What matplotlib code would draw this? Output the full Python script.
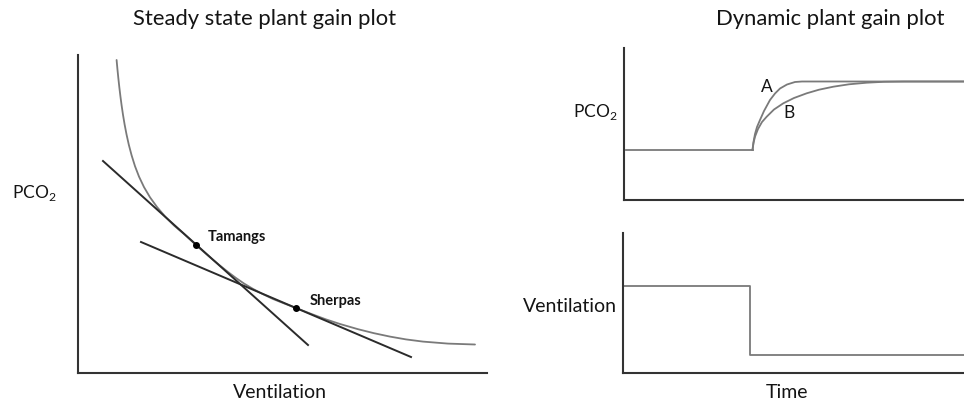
import matplotlib
matplotlib.use("Agg")
import matplotlib.pyplot as plt

plt.rcParams['font.family'] = ['Lato', 'DejaVu Sans']
plt.rcParams['mathtext.fontset'] = 'custom'
plt.rcParams['mathtext.rm'] = 'Lato'

# ---- Steady state plant gain plot (arbitrary units) ----
curve_x = [38.6, 39.4, 40.3, 41.3, 42.4, 43.6, 45.0, 46.6, 48.5, 50.8, 53.6, 57, 61, 66, 72, 79, 87,
           96, 106, 118, 126, 134, 142, 150, 158, 166, 175, 185, 195, 206, 218, 234, 248, 262, 280,
           296, 312, 328, 345, 370, 397]
curve_y = [313, 304.2, 295.2, 286, 276.8, 267.7, 258.2, 248.6, 238.7, 228.3, 217.7, 206.8, 196.4,
           185.9, 175.7, 166, 156.6, 147.5, 139, 128, 120.9, 114, 107.4, 101, 95, 89.5, 84.1, 78.8,
           74, 69.6, 65, 58.8, 53.6, 49, 43.8, 39.8, 36.4, 33.6, 31.4, 29.4, 28.5]
tangent_tamangs_x = [25, 230]
tangent_tamangs_y = [212, 28]
tangent_sherpas_x = [63, 333]
tangent_sherpas_y = [131, 16]
groups = ["Tamangs", "Sherpas"]
group_x = [118, 218]
group_y = [128, 65]

# ---- Dynamic plant gain plot (arbitrary units) ----
pco2_base_x = [2, 128.5]
pco2_base_y = [50, 50]
curveA_x = [128.5, 129.5, 131, 133, 136, 140, 146, 151, 156, 163, 171, 178, 340]
curveA_y = [50, 58, 66, 73, 80, 89, 100, 106.5, 111.5, 115.5, 118, 118.5, 118.5]
curveB_x = [128.5, 129.5, 131, 134, 138, 142.7, 150, 159.3, 170, 182.7, 195, 209.3, 225, 242.7,
            260, 280, 340]
curveB_y = [50, 57, 63.3, 71, 78, 83.3, 90.5, 96.7, 102, 106.7, 110.3, 113.3, 115.7, 117.3,
            118.2, 118.5, 118.5]
vent_x = [0, 127, 127, 341]
vent_y = [87, 87, 18, 18]

W, H = 964, 405
fig = plt.figure(figsize=(W / 100, H / 100), dpi=100)

def frac(x0, y0, x1, y1):
    return [x0 / W, 1 - y1 / H, (x1 - x0) / W, (y1 - y0) / H]

axis_color = '#333333'
curve_color = '#7a7a7a'
line_color = '#2b2b2b'
text_color = '#141414'

def style(ax, xmax, ymax):
    ax.set_xlim(0, xmax)
    ax.set_ylim(0, ymax)
    for s in ['top', 'right']:
        ax.spines[s].set_visible(False)
    for s in ['left', 'bottom']:
        ax.spines[s].set_color(axis_color)
        ax.spines[s].set_linewidth(1.5)
    ax.set_xticks([])
    ax.set_yticks([])
    ax.patch.set_alpha(0)

# Left panel
ax1 = fig.add_axes(frac(78, 55, 487, 373))
style(ax1, 409, 318)
ax1.plot(curve_x, curve_y, color=curve_color, lw=1.3, solid_capstyle='round', solid_joinstyle='round')
ax1.plot(tangent_tamangs_x, tangent_tamangs_y, color=line_color, lw=1.4)
ax1.plot(tangent_sherpas_x, tangent_sherpas_y, color=line_color, lw=1.4)
ax1.plot(group_x, group_y, 'o', color='black', ms=4)
ax1.text(130, 136, groups[0], fontsize=10.5, fontweight='bold', color=text_color, va='center', ha='left')
ax1.text(232, 72, groups[1], fontsize=10.5, fontweight='bold', color=text_color, va='center', ha='left')

fig.text(265 / W, 1 - 19 / H, "Steady state plant gain plot", fontsize=15.8, ha='center', va='center', color=text_color)
fig.text(12 / W, 1 - 193 / H, "PCO$_\\mathregular{2}$", fontsize=12.5, ha='left', va='center', color=text_color)
fig.text(280 / W, 1 - 392 / H, "Ventilation", fontsize=14, ha='center', va='center', color=text_color)

# Right top panel
ax2 = fig.add_axes(frac(624, 48, 964, 200))
style(ax2, 340, 152)
ax2.plot(pco2_base_x, pco2_base_y, color=curve_color, lw=1.3)
ax2.plot(curveA_x, curveA_y, color=curve_color, lw=1.3, solid_joinstyle='round')
ax2.plot(curveB_x, curveB_y, color=curve_color, lw=1.3, solid_joinstyle='round')
ax2.text(143, 113, "A", fontsize=12.5, ha='center', va='center', color=text_color)
ax2.text(165, 87, "B", fontsize=12.5, ha='center', va='center', color=text_color)
fig.text(830 / W, 1 - 19 / H, "Dynamic plant gain plot", fontsize=15.8, ha='center', va='center', color=text_color)
fig.text(618 / W, 1 - 112 / H, "PCO$_\\mathregular{2}$", fontsize=12.5, ha='right', va='center', color=text_color)

# Right bottom panel
ax3 = fig.add_axes(frac(623, 233, 964, 373))
style(ax3, 341, 140)
ax3.plot(vent_x, vent_y, color=curve_color, lw=1.3)
fig.text(617 / W, 1 - 306 / H, "Ventilation", fontsize=14, ha='right', va='center', color=text_color)
fig.text(787 / W, 1 - 392 / H, "Time", fontsize=14, ha='center', va='center', color=text_color)

fig.savefig("out.png", dpi=100)
